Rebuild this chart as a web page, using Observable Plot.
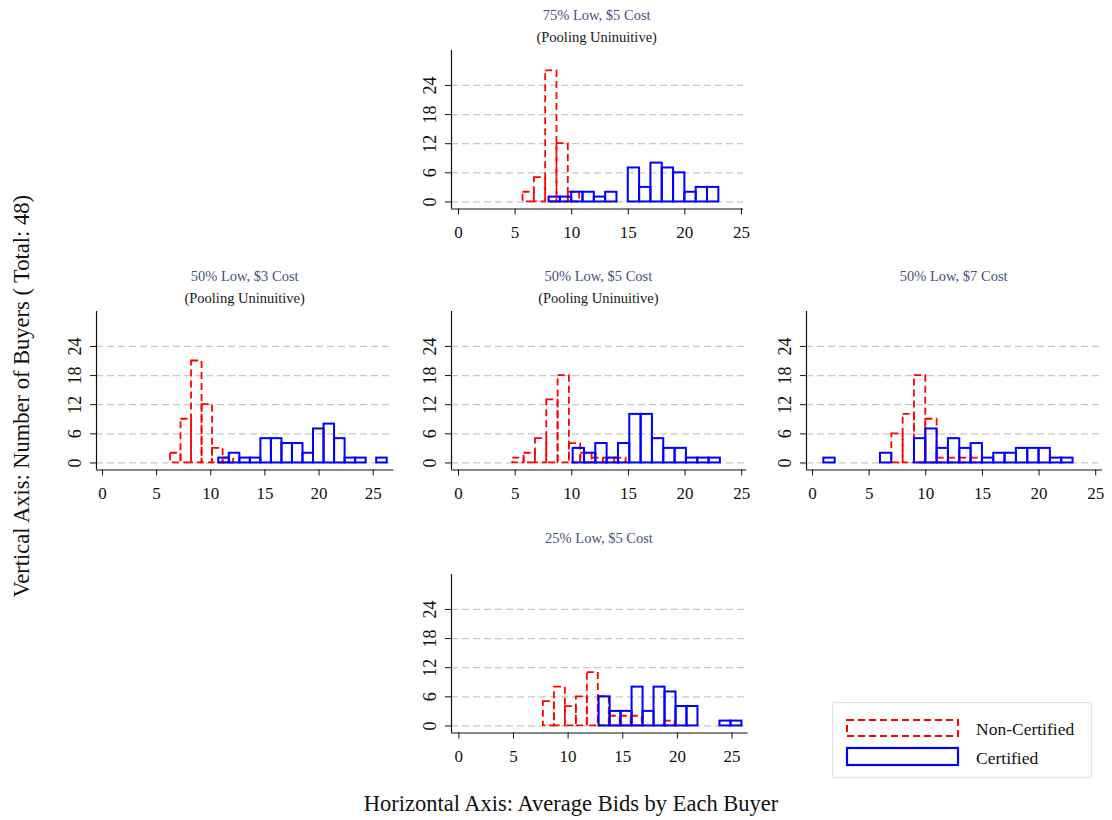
<!DOCTYPE html>
<html>
<head>
<meta charset="utf-8">
<script src="https://cdn.jsdelivr.net/npm/d3@7"></script>
<script src="https://cdn.jsdelivr.net/npm/@observablehq/plot@0.6"></script>
<style>
  html, body { margin: 0; padding: 0; background: #fff; }
  #root { position: relative; width: 1112px; height: 820px; font-family: "Liberation Serif", "DejaVu Serif", serif; overflow: hidden; }
  .t { position: absolute; text-align: center; white-space: nowrap; }
  .panel { position: absolute; }
</style>
</head>
<body>
<div id="root"></div>
<script>
// ---------- data ----------
const yTicks = [0, 6, 12, 18, 24];
const xTicks = [0, 5, 10, 15, 20, 25];
const seriesNames = ["Non-Certified", "Certified"];

// 75% Low, $5 Cost
const p1RedStart = 5.7,  p1RedWidth = 1.0,   p1RedCounts  = [2, 5, 27, 12, 2];
const p1BlueStart = 8.0, p1BlueWidth = 1.0,  p1BlueCounts = [1, 1, 2, 2, 1, 2, 0, 7, 3, 8, 7, 6, 2, 3, 3];
// 50% Low, $3 Cost
const p2RedStart = 6.28,  p2RedWidth = 0.972,  p2RedCounts  = [2, 9, 21, 12, 3, 1];
const p2BlueStart = 10.74, p2BlueWidth = 0.972, p2BlueCounts = [1, 2, 1, 1, 5, 5, 4, 4, 2, 7, 8, 5, 1, 1, 0, 1];
// 50% Low, $5 Cost
const p3RedStart = 4.79,  p3RedWidth = 1.0,  p3RedCounts  = [1, 2, 5, 13, 18, 4, 2, 1, 1, 1];
const p3BlueStart = 10.12, p3BlueWidth = 1.0, p3BlueCounts = [3, 2, 4, 1, 4, 10, 10, 5, 3, 3, 1, 1, 1];
// 50% Low, $7 Cost
const p4RedStart = 7.0,  p4RedWidth = 1.0,  p4RedCounts  = [6, 10, 18, 9, 1, 1, 1, 1];
const p4BlueStart = 1.0, p4BlueWidth = 1.0, p4BlueCounts = [1, 0, 0, 0, 0, 2, 0, 0, 5, 7, 3, 5, 3, 4, 1, 2, 2, 3, 3, 3, 1, 1];
// 25% Low, $5 Cost
const p5RedStart = 7.74,  p5RedWidth = 1.005,  p5RedCounts  = [5, 8, 4, 6, 11, 6, 2, 2, 2, 0, 0, 1];
const p5BlueStart = 12.84, p5BlueWidth = 1.005, p5BlueCounts = [6, 3, 3, 8, 3, 8, 7, 4, 4, 0, 0, 1, 1];

const titles = ["75% Low, $5 Cost", "50% Low, $3 Cost", "50% Low, $5 Cost", "50% Low, $7 Cost", "25% Low, $5 Cost"];
const subtitles = ["(Pooling Uninuitive)", "(Pooling Uninuitive)", "(Pooling Uninuitive)", "", ""];
const xAxisTitle = "Horizontal Axis: Average Bids by Each Buyer";
const yAxisTitle = "Vertical Axis: Number of Buyers ( Total: 48)";

// ---------- layout ----------
const yDomain = [-1.45, 31.2];
const panels = [
  {title: titles[0], sub: subtitles[0], red: [p1RedStart, p1RedWidth, p1RedCounts], blue: [p1BlueStart, p1BlueWidth, p1BlueCounts],
   left: 450.7, right: 742.7, top: 49.5, xDomain: [-0.62, 25.18], titleY: 15},
  {title: titles[1], sub: subtitles[1], red: [p2RedStart, p2RedWidth, p2RedCounts], blue: [p2BlueStart, p2BlueWidth, p2BlueCounts],
   left: 96, right: 393.3, top: 311, xDomain: [-0.55, 26.9], titleY: 276.5},
  {title: titles[2], sub: subtitles[2], red: [p3RedStart, p3RedWidth, p3RedCounts], blue: [p3BlueStart, p3BlueWidth, p3BlueCounts],
   left: 450.7, right: 746, top: 311, xDomain: [-0.62, 25.45], titleY: 276.5},
  {title: titles[3], sub: subtitles[3], red: [p4RedStart, p4RedWidth, p4RedCounts], blue: [p4BlueStart, p4BlueWidth, p4BlueCounts],
   left: 805.7, right: 1101.7, top: 311, xDomain: [-0.53, 25.6], titleY: 276.5},
  {title: titles[4], sub: subtitles[4], red: [p5RedStart, p5RedWidth, p5RedCounts], blue: [p5BlueStart, p5BlueWidth, p5BlueCounts],
   left: 450.7, right: 747.3, top: 573.5, xDomain: [-0.67, 26.47], titleY: 538}
];
const frameH = 158.5;
const mL = 50, mR = 12, mT = 6, mB = 42;

const root = document.getElementById("root");

function bins([start, width, counts]) {
  return counts.map((c, i) => ({x1: start + i * width, x2: start + (i + 1) * width, count: c}))
               .filter(d => d.count > 0);
}

function addText(txt, cx, cy, fs, color, extra = {}) {
  const d = document.createElement("div");
  d.className = "t";
  d.textContent = txt;
  const w = 700;
  Object.assign(d.style, {
    left: (cx - w / 2) + "px", width: w + "px",
    top: (cy - fs / 2) + "px", lineHeight: fs + "px", fontSize: fs + "px", color
  }, extra);
  root.appendChild(d);
  return d;
}

for (const p of panels) {
  const fw = p.right - p.left;
  const chart = Plot.plot({
    width: fw + mL + mR,
    height: frameH + mT + mB,
    marginLeft: mL, marginRight: mR, marginTop: mT, marginBottom: mB,
    style: {fontFamily: "Liberation Serif", fontSize: "17px", color: "#111", background: "transparent", overflow: "visible"},
    x: {domain: p.xDomain},
    y: {domain: yDomain},
    marks: [
      Plot.gridY(yTicks, {stroke: "#c8c8c8", strokeOpacity: 1, strokeWidth: 1.2, strokeDasharray: "7,4"}),
      Plot.rect(bins(p.red), {x1: "x1", x2: "x2", y1: 0, y2: "count", fill: "none", stroke: "#ff0000", strokeWidth: 1.8, strokeDasharray: "7,4"}),
      Plot.rect(bins(p.blue), {x1: "x1", x2: "x2", y1: 0, y2: "count", fill: "none", stroke: "#0000ff", strokeWidth: 2}),
      Plot.ruleX([p.xDomain[0]], {stroke: "#111", strokeWidth: 1.2}),
      Plot.ruleY([yDomain[0]], {stroke: "#111", strokeWidth: 1.2}),
      Plot.axisX({ticks: xTicks, tickSize: 6, tickPadding: 11, label: null, stroke: "#111"}),
      Plot.axisY({ticks: yTicks, tickSize: 6, tickPadding: 10, tickRotate: -90, label: null, stroke: "#111", fontSize: 18})
    ]
  });
  chart.classList.add("panel");
  chart.style.left = (p.left - mL) + "px";
  chart.style.top = (p.top - mT) + "px";
  root.appendChild(chart);

  const cx = (p.left + p.right) / 2;
  addText(p.title, cx, p.titleY, 14.5, "#44527a");
  if (p.sub) addText(p.sub, cx, p.titleY + 22, 14.5, "#1a1a1a");
}

// axis titles
addText(xAxisTitle, 571, 804, 22.5, "#111");
addText(yAxisTitle, 22, 396, 22.5, "#111", {transform: "rotate(-90deg)", transformOrigin: "50% 50%"});

// legend
const ns = "http://www.w3.org/2000/svg";
const leg = document.createElementNS(ns, "svg");
leg.setAttribute("width", 260); leg.setAttribute("height", 77);
Object.assign(leg.style, {position: "absolute", left: "832px", top: "702px"});
leg.innerHTML = `
  <rect x="0.5" y="0.5" width="259" height="75" fill="#fff" stroke="#dde6ec" stroke-width="1.5"/>
  <rect x="15" y="18" width="111" height="16" fill="none" stroke="#ff0000" stroke-width="2" stroke-dasharray="7,4"/>
  <rect x="15" y="46" width="111" height="17" fill="none" stroke="#0000ff" stroke-width="2.2"/>
  <text x="144" y="33" font-family="Liberation Serif" font-size="17.5" fill="#111">${seriesNames[0]}</text>
  <text x="144" y="62" font-family="Liberation Serif" font-size="17.5" fill="#111">${seriesNames[1]}</text>`;
root.appendChild(leg);
</script>
</body>
</html>
